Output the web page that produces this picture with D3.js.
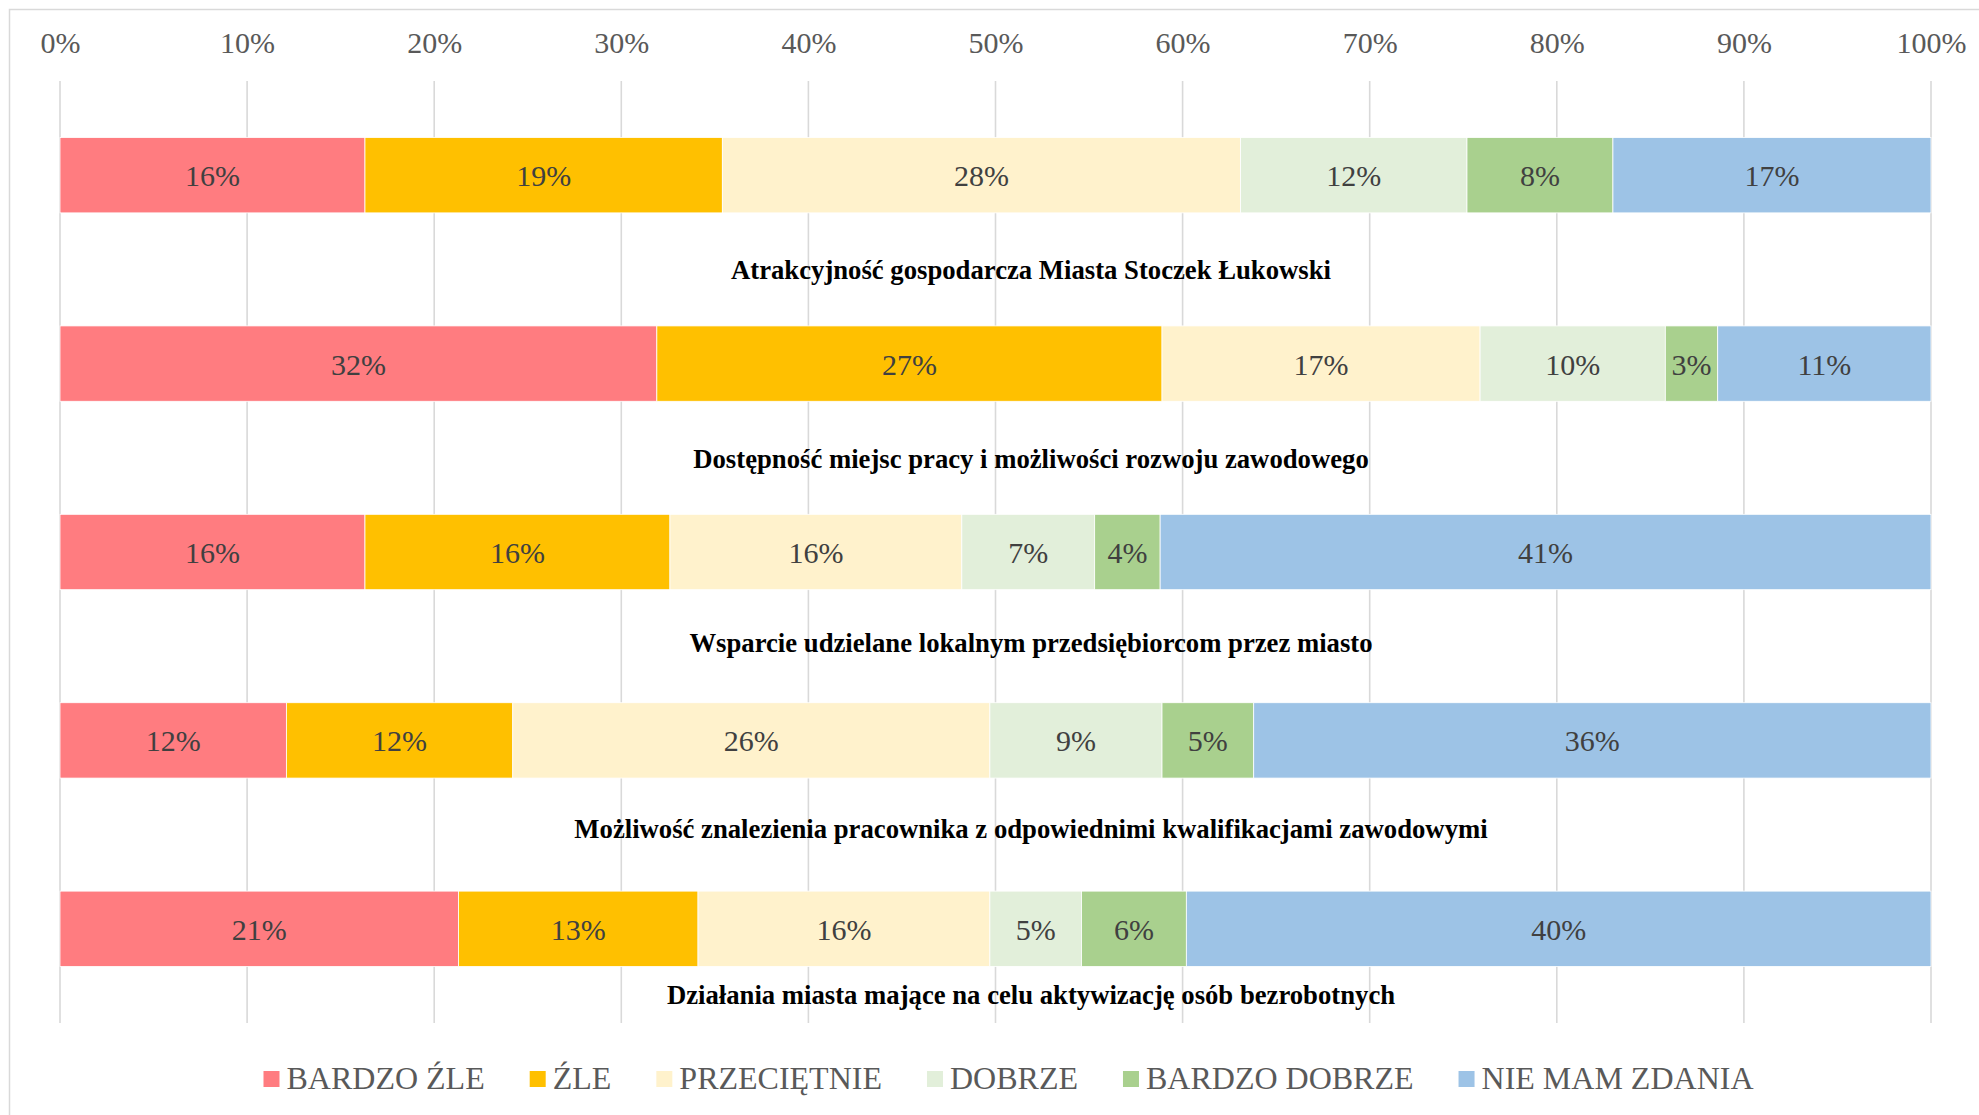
<!DOCTYPE html>
<html>
<head>
<meta charset="utf-8">
<script src="https://cdn.jsdelivr.net/npm/d3@7"></script>
<style>
  body { margin: 0; background: #fff; }
  svg { display: block; font-family: "Liberation Serif", "Times New Roman", serif; }
</style>
</head>
<body>
<svg id="chart" width="1979" height="1115"></svg>
<script>
// categories (top to bottom)
var categories = [
  "Atrakcyjność gospodarcza Miasta Stoczek Łukowski",
  "Dostępność miejsc pracy i możliwości rozwoju zawodowego",
  "Wsparcie udzielane lokalnym przedsiębiorcom przez miasto",
  "Możliwość znalezienia pracownika z odpowiednimi kwalifikacjami zawodowymi",
  "Działania miasta mające na celu aktywizację osób bezrobotnych"
];

// answer levels and their colours
var seriesNames = ["BARDZO ŹLE", "ŹLE", "PRZECIĘTNIE", "DOBRZE", "BARDZO DOBRZE", "NIE MAM ZDANIA"];
var seriesColors = ["#ff7c80", "#ffc000", "#fff2cc", "#e2efda", "#a9d08e", "#9dc3e6"];

// share of answers in percent, one value per category
var bardzoZle    = [16.3, 31.9, 16.3, 12.1, 21.3];
var zle          = [19.1, 27.0, 16.3, 12.1, 12.8];
var przecietnie  = [27.7, 17.0, 15.6, 25.5, 15.6];
var dobrze       = [12.1,  9.9,  7.1,  9.2,  4.9];
var bardzoDobrze = [ 7.8,  2.8,  3.5,  4.9,  5.6];
var nieMamZdania = [17.0, 11.4, 41.2, 36.2, 39.8];

var xTicks = [0, 10, 20, 30, 40, 50, 60, 70, 80, 90, 100];

// gap between bar bottom and its caption (layout only)
var captionGap = [66, 67, 62, 60, 38];

var svg = d3.select("#chart");

// build rows for d3.stack
var allSeries = [bardzoZle, zle, przecietnie, dobrze, bardzoDobrze, nieMamZdania];
var rows = categories.map(function (c, i) {
  var r = { category: c };
  seriesNames.forEach(function (s, k) { r[s] = allSeries[k][i]; });
  return r;
});
var stacked = d3.stack().keys(seriesNames)(rows);

var x = d3.scaleLinear().domain([0, 100]).range([60, 1931]);
var y = d3.scaleBand().domain(categories).range([81, 1023]).paddingInner(0.6).paddingOuter(0.3);
var color = d3.scaleOrdinal().domain(seriesNames).range(seriesColors);

// outer chart border (only left/top are inside the picture)
svg.append("rect")
  .attr("x", 9.5).attr("y", 9.5)
  .attr("width", 2100).attr("height", 1200)
  .attr("fill", "none")
  .attr("stroke", "#d9d9d9")
  .attr("stroke-width", 1.5);

// vertical gridlines
svg.append("g")
  .selectAll("line")
  .data(xTicks)
  .enter()
  .append("line")
  .attr("x1", function (d) { return x(d); })
  .attr("x2", function (d) { return x(d); })
  .attr("y1", 81)
  .attr("y2", 1023)
  .attr("stroke", "#d9d9d9")
  .attr("stroke-width", 1.6);

// top axis labels
var xAxis = d3.axisTop(x).tickValues(xTicks).tickSize(0).tickFormat(function (d) { return d + "%"; });
var axisG = svg.append("g")
  .attr("transform", "translate(0,45)")
  .call(xAxis);
axisG.select(".domain").remove();
axisG.selectAll("text")
  .attr("y", 0)
  .attr("dy", 8)
  .style("font-family", "'Liberation Serif', 'Times New Roman', serif")
  .style("font-size", "30px")
  .attr("fill", "#595959");

// stacked bars
var layers = svg.append("g")
  .selectAll("g")
  .data(stacked)
  .enter()
  .append("g")
  .attr("fill", function (d) { return color(d.key); });

layers.selectAll("rect")
  .data(function (d) { return d; })
  .enter()
  .append("rect")
  .attr("x", function (d) { return x(d[0]); })
  .attr("y", function (d) { return y(d.data.category); })
  .attr("width", function (d) { return x(d[1]) - x(d[0]); })
  .attr("height", y.bandwidth())
  .attr("stroke", "#fff")
  .attr("stroke-width", 0.8);

// value labels
layers.selectAll("text")
  .data(function (d) { return d; })
  .enter()
  .append("text")
  .attr("x", function (d) { return (x(d[0]) + x(d[1])) / 2; })
  .attr("y", function (d) { return y(d.data.category) + y.bandwidth() / 2 + 11; })
  .attr("text-anchor", "middle")
  .attr("fill", "#404040")
  .style("font-size", "30px")
  .text(function (d) { return Math.round(d[1] - d[0]) + "%"; });

// category captions under each bar
svg.append("g")
  .selectAll("text")
  .data(categories)
  .enter()
  .append("text")
  .attr("x", 1031)
  .attr("y", function (d, i) { return y(d) + y.bandwidth() + captionGap[i]; })
  .attr("text-anchor", "middle")
  .attr("fill", "#000")
  .style("font-size", "26.7px")
  .style("font-weight", "bold")
  .text(function (d) { return d; });

// legend
var legendGap = 45;
var legend = svg.append("g");
var lx = 0;
seriesNames.forEach(function (s) {
  var item = legend.append("g").attr("transform", "translate(" + lx + ",0)");
  item.append("rect")
    .attr("x", 0).attr("y", 1071)
    .attr("width", 16).attr("height", 16)
    .attr("fill", color(s));
  var t = item.append("text")
    .attr("x", 23).attr("y", 1089)
    .attr("fill", "#595959")
    .style("font-size", "32px")
    .text(s);
  lx += 23 + t.node().getComputedTextLength() + legendGap;
});
var legendWidth = lx - legendGap;
legend.attr("transform", "translate(" + (1008.5 - legendWidth / 2) + ",0)");
</script>
</body>
</html>
